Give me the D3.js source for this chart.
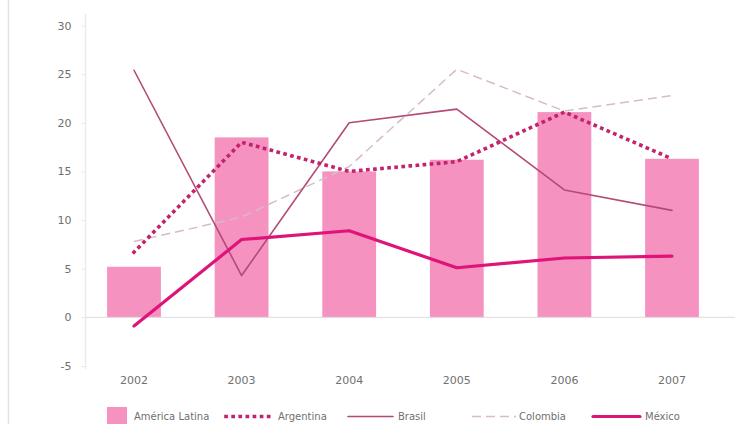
<!DOCTYPE html>
<html>
<head>
<meta charset="utf-8">
<script src="https://cdn.jsdelivr.net/npm/d3@7"></script>
<style>
  html, body { margin: 0; padding: 0; background: #fff; }
  svg { display: block; }
  text { font-family: "DejaVu Sans", sans-serif; fill: #707070; }
</style>
</head>
<body>
<svg id="chart" width="735" height="424"></svg>
<script>
// Years on the horizontal axis
const years = ["2002", "2003", "2004", "2005", "2006", "2007"];

// Regional total, drawn as bars
const americaLatina = [5.2, 18.5, 15.0, 16.2, 21.1, 16.3];

// Country series, drawn as lines
const argentina = [6.7, 18.0, 15.0, 16.0, 21.1, 16.3];
const brasil    = [25.4, 4.3, 20.0, 21.4, 13.1, 11.0];
const colombia  = [7.8, 10.3, 15.5, 25.5, 21.2, 22.8];
const mexico    = [-0.9, 8.0, 8.9, 5.1, 6.1, 6.3];

// Value axis ticks
const yTicks = [-5, 0, 5, 10, 15, 20, 25, 30];

const svg = d3.select("#chart");

const x = d3.scaleBand()
  .domain(years)
  .range([80.2, 725.8])
  .paddingInner(0.5)
  .paddingOuter(0.25);

const y = d3.scaleLinear()
  .domain([-5, 30])
  .range([366, 25.5]);

// Page frame line at the far left
svg.append("line")
  .attr("x1", 8.5).attr("x2", 8.5)
  .attr("y1", 0).attr("y2", 424)
  .attr("stroke", "#e2e2e2").attr("stroke-width", 1.5);

// Value axis (plain hyphen for negatives)
const yAxis = d3.axisLeft(y)
  .tickValues(yTicks)
  .tickSize(4)
  .tickPadding(10)
  .tickFormat(d => String(d));

const gy = svg.append("g")
  .attr("transform", "translate(85.5,0)")
  .call(yAxis);
gy.select(".domain").attr("stroke", "#ececec").attr("stroke-width", 1.5)
  .attr("d", `M0,${y(31.2)}V${y(-5.3)}`);
gy.selectAll(".tick line").attr("stroke", "#e8e8e8");
gy.selectAll(".tick text").attr("font-size", 11).style("fill", "#707070");

// Category labels
const xAxis = d3.axisBottom(x).tickSize(0).tickPadding(0);
const gx = svg.append("g")
  .attr("transform", "translate(0,376)")
  .call(xAxis);
gx.select(".domain").remove();
gx.selectAll(".tick text").attr("font-size", 11).attr("dy", "0.75em").style("fill", "#707070");

// Bars for América Latina
svg.append("g")
  .selectAll("rect")
  .data(americaLatina)
  .join("rect")
  .attr("x", (d, i) => x(years[i]))
  .attr("width", x.bandwidth())
  .attr("y", d => y(Math.max(0, d)))
  .attr("height", d => Math.abs(y(d) - y(0)))
  .attr("fill", "#f592c0");

// Zero baseline
svg.append("line")
  .attr("x1", 85.5).attr("x2", 735)
  .attr("y1", y(0)).attr("y2", y(0))
  .attr("stroke", "#dcdcdc").attr("stroke-width", 1);

const cx = i => x(years[i]) + x.bandwidth() / 2;
const line = d3.line().x((d, i) => cx(i)).y(d => y(d));

const styles = {
  colombia:  { color: "#d6bcc6", width: 1.5, dash: "9,5", cap: "butt" },
  brasil:    { color: "#b44a78", width: 1.6, dash: null,  cap: "round" },
  argentina: { color: "#c2236c", width: 3.6, dash: "0.1,7", cap: "square" },
  mexico:    { color: "#df1479", width: 3.2, dash: null,  cap: "round" }
};

function drawLine(data, s) {
  svg.append("path")
    .datum(data)
    .attr("d", line)
    .attr("fill", "none")
    .attr("stroke", s.color)
    .attr("stroke-width", s.width)
    .attr("stroke-linejoin", "round")
    .attr("stroke-linecap", s.cap)
    .attr("stroke-dasharray", s.dash);
}

drawLine(colombia, styles.colombia);
drawLine(brasil, styles.brasil);
drawLine(argentina, styles.argentina);
drawLine(mexico, styles.mexico);

// Legend
const legendY = 416.5;
const lg = svg.append("g");

lg.append("rect")
  .attr("x", 107).attr("y", 407)
  .attr("width", 20).attr("height", 20)
  .attr("fill", "#f592c0");
lg.append("text").attr("x", 134).attr("y", legendY).attr("dy", "0.35em")
  .attr("font-size", 10).text("América Latina");

const legendLines = [
  { name: "Argentina", s: styles.argentina, x0: 226, x1: 274, tx: 278 },
  { name: "Brasil",    s: styles.brasil,    x0: 348, x1: 393, tx: 398 },
  { name: "Colombia",  s: styles.colombia,  x0: 472, x1: 516, tx: 519 },
  { name: "México",    s: styles.mexico,    x0: 593, x1: 640, tx: 645 }
];

legendLines.forEach(d => {
  lg.append("line")
    .attr("x1", d.x0).attr("x2", d.x1)
    .attr("y1", legendY).attr("y2", legendY)
    .attr("stroke", d.s.color)
    .attr("stroke-width", d.s.width)
    .attr("stroke-linecap", d.s.cap)
    .attr("stroke-dasharray", d.s.dash);
  lg.append("text").attr("x", d.tx).attr("y", legendY).attr("dy", "0.35em")
    .attr("font-size", 10).text(d.name);
});
</script>
</body>
</html>
